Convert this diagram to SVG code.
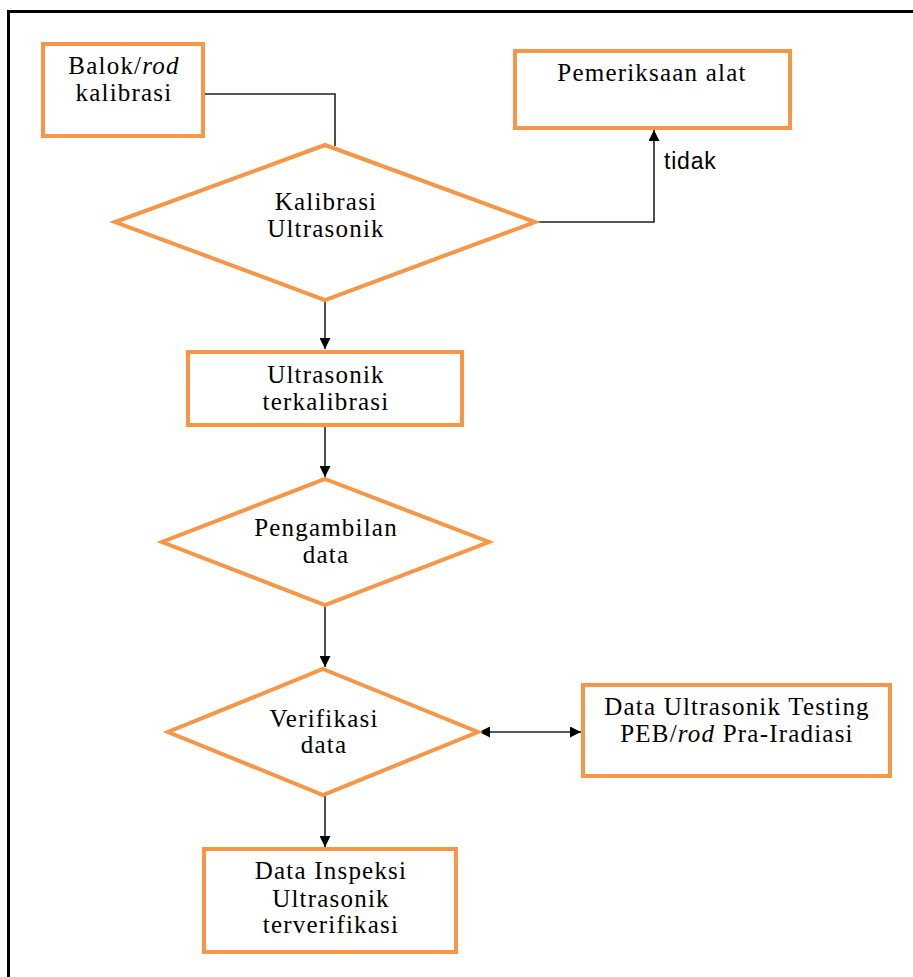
<svg xmlns="http://www.w3.org/2000/svg" width="913" height="977" viewBox="0 0 913 977">
  <defs>
    <marker id="arrow" viewBox="0 0 10 10" refX="10" refY="5" markerWidth="11" markerHeight="11" markerUnits="userSpaceOnUse" orient="auto-start-reverse">
      <path d="M0,0 L10,5 L0,10 Z" fill="#000"/>
    </marker>
    <style>
      .box { fill: #fff; stroke: #F79646; stroke-width: 4; }
      .line { fill: none; stroke: #222; stroke-width: 1.6; }
      .lbl { font-family: "Liberation Serif", "Times New Roman", serif; font-size: 25px; letter-spacing: 1.2px; fill: #000; text-anchor: middle; }
      .note { font-family: "Liberation Sans", Arial, sans-serif; font-size: 23px; letter-spacing: 0.8px; fill: #000; }
      .frame { fill: none; stroke: #000; stroke-width: 3; }
    </style>
  </defs>

  <rect width="913" height="977" fill="#fff"/>

  <!-- page frame: top rule and left rule -->
  <path class="frame" d="M913,11.5 H8.5 V977"/>

  <!-- connectors -->
  <g id="connectors">
    <path class="line" d="M205,94 H335 V146"/>
    <path class="line" d="M535,222 H654 V130" marker-end="url(#arrow)"/>
    <path class="line" d="M325,302 V349" marker-end="url(#arrow)"/>
    <path class="line" d="M325,427 V477" marker-end="url(#arrow)"/>
    <path class="line" d="M325,605 V667" marker-end="url(#arrow)"/>
    <path class="line" d="M325,795 V847" marker-end="url(#arrow)"/>
    <path class="line" d="M479,732 H581" marker-start="url(#arrow)" marker-end="url(#arrow)"/>
    <text class="note" x="664" y="169">tidak</text>
  </g>

  <g id="balok-rod">
    <rect class="box" x="43" y="44" width="160" height="92"/>
    <text class="lbl" x="124" y="74">Balok/<tspan font-style="italic">rod</tspan></text>
    <text class="lbl" x="124" y="101">kalibrasi</text>
  </g>

  <g id="pemeriksaan-alat">
    <rect class="box" x="515" y="51" width="275" height="77"/>
    <text class="lbl" x="652" y="81">Pemeriksaan alat</text>
  </g>

  <g id="kalibrasi-ultrasonik">
    <polygon class="box" points="325,145 535,222 325,300 115,222"/>
    <text class="lbl" x="326" y="210">Kalibrasi</text>
    <text class="lbl" x="326" y="237">Ultrasonik</text>
  </g>

  <g id="ultrasonik-terkalibrasi">
    <rect class="box" x="188" y="352" width="274" height="73"/>
    <text class="lbl" x="326" y="383">Ultrasonik</text>
    <text class="lbl" x="326" y="410">terkalibrasi</text>
  </g>

  <g id="pengambilan-data">
    <polygon class="box" points="325,479 489,542 325,605 162,542"/>
    <text class="lbl" x="326" y="536">Pengambilan</text>
    <text class="lbl" x="326" y="563">data</text>
  </g>

  <g id="verifikasi-data">
    <polygon class="box" points="323,669 478,732 323,795 168,732"/>
    <text class="lbl" x="324" y="727">Verifikasi</text>
    <text class="lbl" x="324" y="753">data</text>
  </g>

  <g id="data-ut-pra-iradiasi">
    <rect class="box" x="583" y="685" width="307" height="91"/>
    <text class="lbl" x="737" y="715">Data Ultrasonik Testing</text>
    <text class="lbl" x="737" y="742">PEB/<tspan font-style="italic">rod</tspan> Pra-Iradiasi</text>
  </g>

  <g id="data-inspeksi">
    <rect class="box" x="204" y="849" width="252" height="103"/>
    <text class="lbl" x="331" y="879">Data Inspeksi</text>
    <text class="lbl" x="331" y="907">Ultrasonik</text>
    <text class="lbl" x="331" y="933">terverifikasi</text>
  </g>
</svg>
